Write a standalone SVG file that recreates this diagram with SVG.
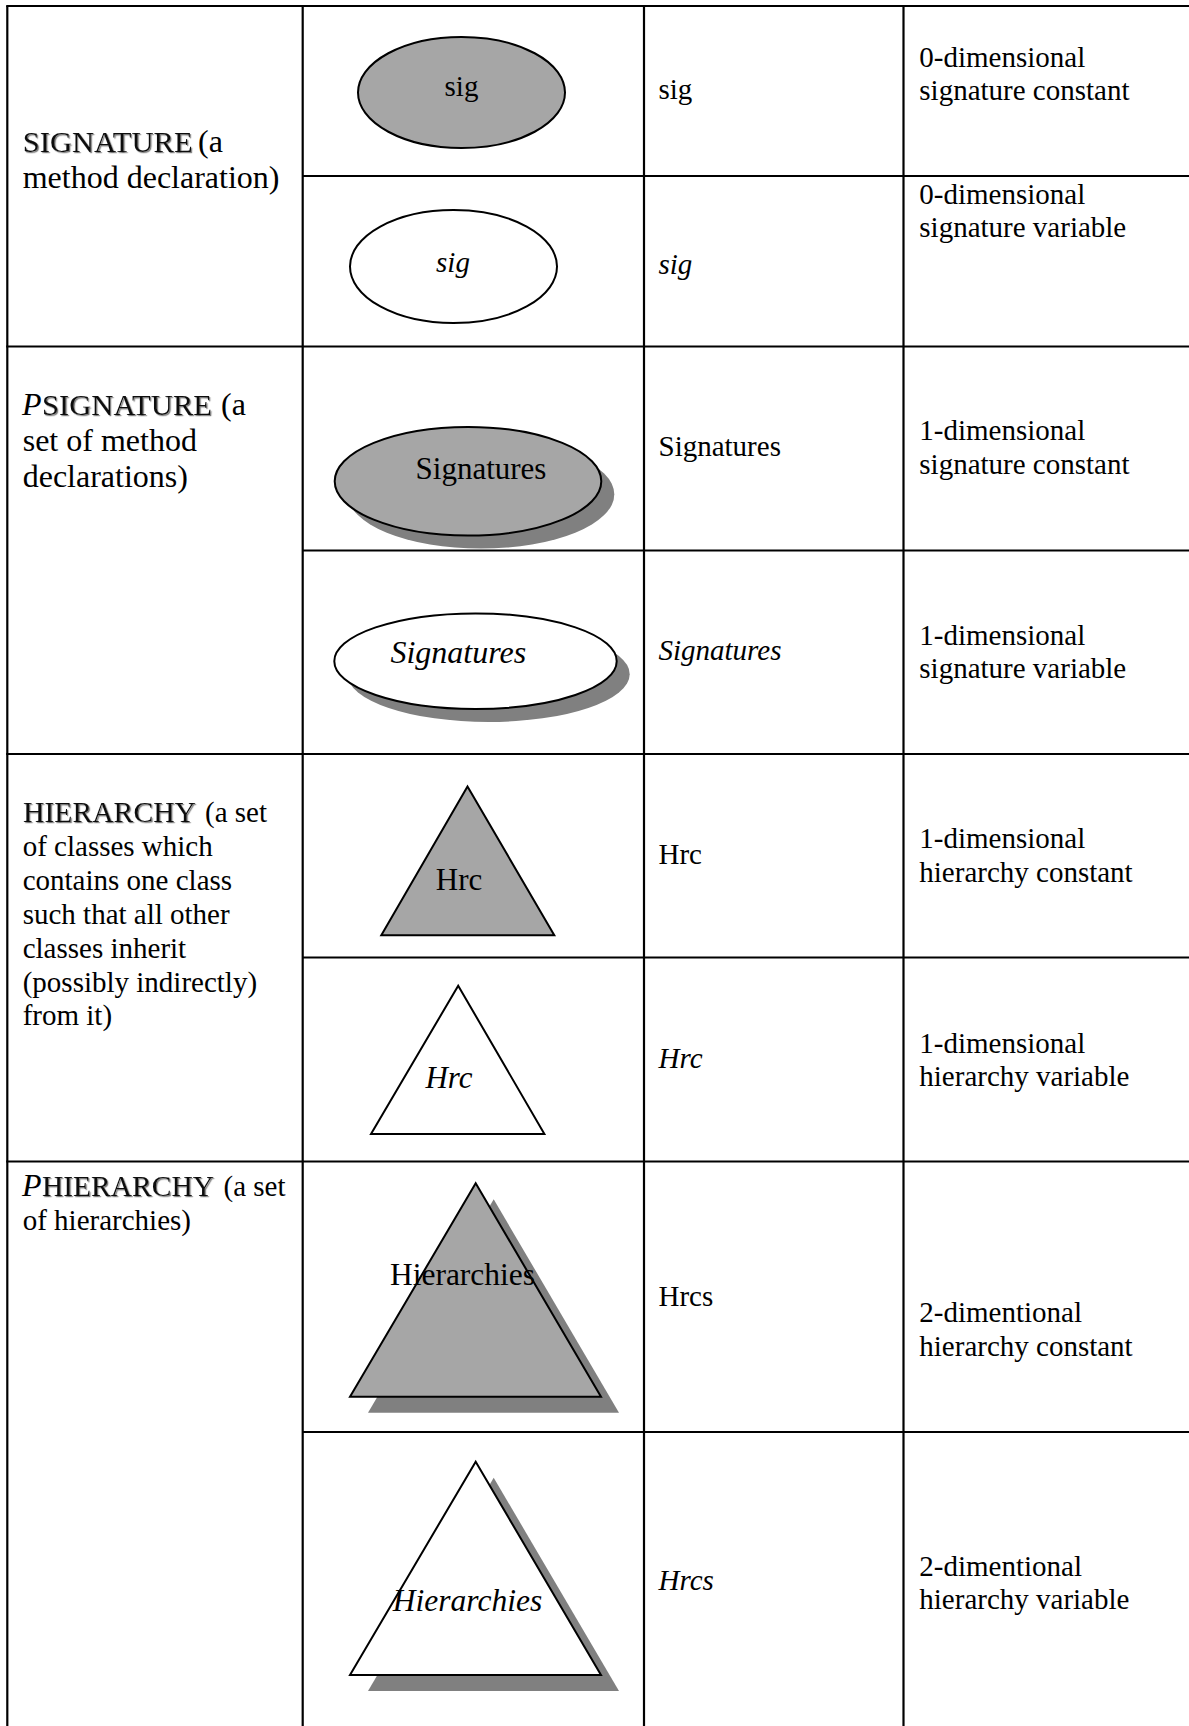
<svg xmlns="http://www.w3.org/2000/svg" width="1189" height="1726" viewBox="0 0 1189 1726">
  <defs>
    <filter id="engrave" x="-5%" y="-20%" width="110%" height="150%">
      <feDropShadow dx="1.2" dy="1.2" stdDeviation="0.4" flood-color="#7a7a7a" flood-opacity="1"/>
    </filter>
  </defs>
  <style>
    .grid { stroke: #000; stroke-width: 2.2; fill: none; }
    .t { font-family: "Liberation Serif", "Times New Roman", serif; fill: #000; }
    .big { font-size: 32px; }
    .mid { font-size: 29px; }
    .lbl { font-size: 31px; text-anchor: middle; }
    .it { font-style: italic; }
    .head { font-family: "Liberation Serif", "Times New Roman", serif; font-size: 30px; fill: #111; filter: url(#engrave); }
    .const { fill: #a6a6a6; stroke: #000; stroke-width: 2; }
    .var { fill: #fff; stroke: #000; stroke-width: 2; }
    .shadow { fill: #808080; stroke: none; }
  </style>

  <rect x="0" y="0" width="1189" height="1726" fill="#fff"/>

  <!-- table rules -->
  <g id="table-grid" class="grid">
    <line x1="7.3" y1="6" x2="7.3" y2="1726"/>
    <line x1="302.7" y1="6" x2="302.7" y2="1726"/>
    <line x1="644" y1="6" x2="644" y2="1726"/>
    <line x1="903.5" y1="6" x2="903.5" y2="1726"/>
    <line x1="6.2" y1="6" x2="1189" y2="6"/>
    <line x1="302.7" y1="176" x2="1189" y2="176"/>
    <line x1="6.2" y1="346.5" x2="1189" y2="346.5"/>
    <line x1="302.7" y1="550.5" x2="1189" y2="550.5"/>
    <line x1="6.2" y1="754" x2="1189" y2="754"/>
    <line x1="302.7" y1="957.5" x2="1189" y2="957.5"/>
    <line x1="6.2" y1="1161.5" x2="1189" y2="1161.5"/>
    <line x1="302.7" y1="1432" x2="1189" y2="1432"/>
  </g>

  <!-- category descriptions -->
  <g id="cat-signature">
    <text class="head" x="22.7" y="151.7" textLength="170" lengthAdjust="spacingAndGlyphs">SIGNATURE</text>
    <text class="t big" x="198" y="151.7">(a</text>
    <text class="t big" x="22.7" y="188.3">method declaration)</text>
  </g>
  <g id="cat-psignature">
    <text class="t big it" x="22" y="414.5">P</text>
    <text class="head" x="42" y="414.5" textLength="170" lengthAdjust="spacingAndGlyphs">SIGNATURE</text>
    <text class="t big" x="221" y="414.5">(a</text>
    <text class="t big" x="22.7" y="450.5">set of method</text>
    <text class="t big" x="22.7" y="486.8">declarations)</text>
  </g>
  <g id="cat-hierarchy">
    <text class="head" x="23" y="822" textLength="173" lengthAdjust="spacingAndGlyphs">HIERARCHY</text>
    <text class="t mid" x="205" y="822">(a set</text>
    <text class="t mid" x="22.7" y="855.9">of classes which</text>
    <text class="t mid" x="22.7" y="889.8">contains one class</text>
    <text class="t mid" x="22.7" y="923.7">such that all other</text>
    <text class="t mid" x="22.7" y="957.6">classes inherit</text>
    <text class="t mid" x="22.7" y="991.5">(possibly indirectly)</text>
    <text class="t mid" x="22.7" y="1025.4">from it)</text>
  </g>
  <g id="cat-phierarchy">
    <text class="t big it" x="22" y="1196">P</text>
    <text class="head" x="42" y="1196" textLength="172" lengthAdjust="spacingAndGlyphs">HIERARCHY</text>
    <text class="t mid" x="223.5" y="1196">(a set</text>
    <text class="t mid" x="22.7" y="1230">of hierarchies)</text>
  </g>

  <!-- symbols -->
  <g id="sym-sig-const">
    <ellipse class="const" cx="461.5" cy="92.5" rx="103.5" ry="55.5"/>
    <text class="t lbl" style="font-size:29px" x="461.5" y="95.5">sig</text>
  </g>
  <g id="sym-sig-var">
    <ellipse class="var" cx="453.5" cy="266.5" rx="103.5" ry="56.5"/>
    <text class="t lbl it" style="font-size:29px" x="453" y="272">sig</text>
  </g>
  <g id="sym-sigs-const">
    <ellipse class="shadow" cx="481" cy="494.3" rx="133.3" ry="54.3"/>
    <ellipse class="const" cx="468" cy="481.3" rx="133.3" ry="54.3"/>
    <text class="t lbl" x="481" y="478.5">Signatures</text>
  </g>
  <g id="sym-sigs-var">
    <ellipse class="shadow" cx="488.5" cy="674.2" rx="141.2" ry="47.8"/>
    <ellipse class="var" cx="475.5" cy="661.2" rx="141.2" ry="47.8"/>
    <text class="t lbl it" style="font-size:32px" x="458.3" y="663">Signatures</text>
  </g>
  <g id="sym-hrc-const">
    <polygon class="const" points="467.5,786.5 554.3,935.3 381.3,935.3"/>
    <text class="t lbl" x="459" y="889.5">Hrc</text>
  </g>
  <g id="sym-hrc-var">
    <polygon class="var" points="458.2,985.7 544.4,1134 371,1134"/>
    <text class="t lbl it" x="449" y="1088">Hrc</text>
  </g>
  <g id="sym-hrcs-const">
    <polygon class="shadow" points="493.7,1199.3 619,1412.7 368,1412.7"/>
    <polygon class="const" points="475.7,1183.3 601,1396.7 350,1396.7"/>
    <text class="t lbl" style="font-size:31.5px" x="462.5" y="1285">Hierarchies</text>
  </g>
  <g id="sym-hrcs-var">
    <polygon class="shadow" points="493.7,1477.7 619,1691 368,1691"/>
    <polygon class="var" points="475.7,1461.7 601,1675 350,1675"/>
    <text class="t lbl it" style="font-size:31.5px" x="467.5" y="1610.7">Hierarchies</text>
  </g>

  <!-- notation column -->
  <g id="notation" class="t mid">
    <text x="658.5" y="99.3">sig</text>
    <text class="it" x="658.5" y="274">sig</text>
    <text x="658.5" y="456.4">Signatures</text>
    <text class="it" x="658.5" y="660.4">Signatures</text>
    <text x="658.5" y="864.4">Hrc</text>
    <text class="it" x="658.5" y="1068.4">Hrc</text>
    <text x="658.5" y="1306">Hrcs</text>
    <text class="it" x="658.5" y="1590">Hrcs</text>
  </g>

  <!-- meaning column -->
  <g id="meaning" class="t mid">
    <text x="919.3" y="66.5">0-dimensional</text>
    <text x="919.3" y="100">signature constant</text>
    <text x="919.3" y="203.5">0-dimensional</text>
    <text x="919.3" y="237">signature variable</text>
    <text x="919.3" y="440.3">1-dimensional</text>
    <text x="919.3" y="473.8">signature constant</text>
    <text x="919.3" y="644.7">1-dimensional</text>
    <text x="919.3" y="678">signature variable</text>
    <text x="919.3" y="848.3">1-dimensional</text>
    <text x="919.3" y="881.5">hierarchy constant</text>
    <text x="919.3" y="1052.7">1-dimensional</text>
    <text x="919.3" y="1086">hierarchy variable</text>
    <text x="919.3" y="1322.4">2-dimentional</text>
    <text x="919.3" y="1355.8">hierarchy constant</text>
    <text x="919.3" y="1575.6">2-dimentional</text>
    <text x="919.3" y="1609">hierarchy variable</text>
  </g>
</svg>
